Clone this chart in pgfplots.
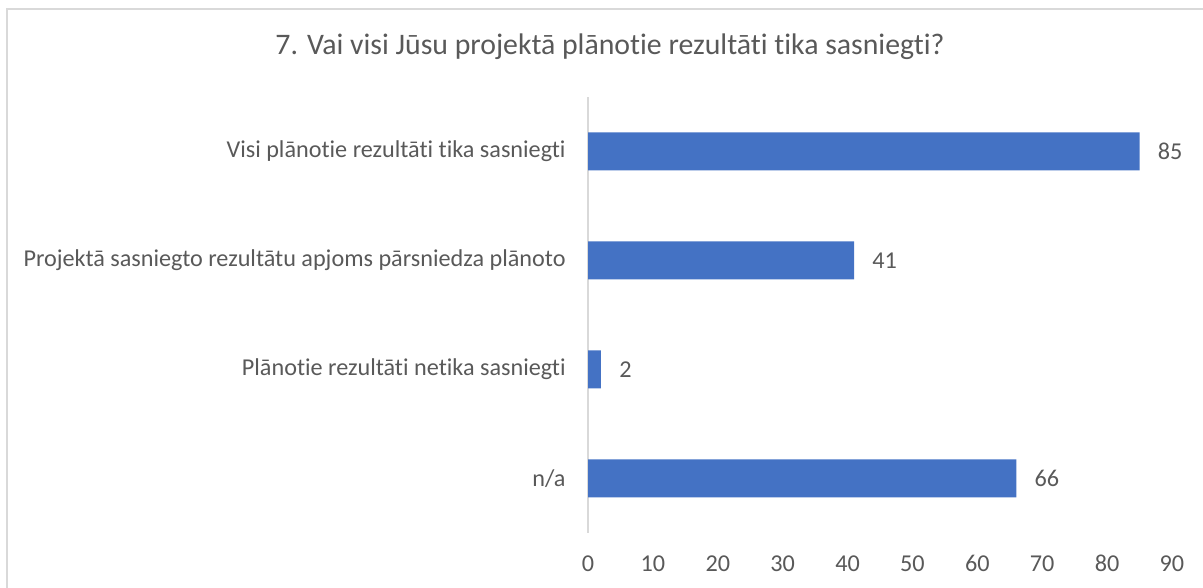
\documentclass[border=0pt]{standalone}
\usepackage{pgfplots}
\pgfplotsset{compat=1.18}
\usepackage{fontspec}
\setmainfont{Carlito}[Ligatures={NoCommon}]
\definecolor{barblue}{HTML}{4472C4}
\definecolor{txt}{HTML}{595959}
\definecolor{axc}{HTML}{D9D9D9}
\begin{document}
\begin{tikzpicture}
\path[use as bounding box] (0,0) rectangle (601.5pt,294pt);
\draw[axc, line width=0.9pt] (3.6pt,0) -- (3.6pt,289.6pt) -- (601.5pt,289.6pt);
\node[txt, font=\fontsize{14.9}{17}\selectfont] at (305pt,270.5pt) {7. Vai visi Jūsu projektā plānotie rezultāti tika sasniegti?};
\begin{axis}[
  at={(294pt,27.5pt)}, anchor=south west,
  scale only axis, width=292pt, height=218pt,
  xbar, bar width=19pt,
  xmin=0, xmax=90, ymin=-0.5, ymax=3.5,
  xtick={0,10,...,90}, ytick={0,1,2,3},
  yticklabels={n/a, Plānotie rezultāti netika sasniegti, Projektā sasniegto rezultātu apjoms pārsniedza plānoto, Visi plānotie rezultāti tika sasniegti},
  axis lines*=left,
  x axis line style={draw=none},
  y axis line style={draw=axc, line width=0.9pt},
  major tick length=0pt,
  /pgf/number format/assume math mode=true,
  ticklabel style={font=\fontsize{12.1}{14}\selectfont, text=txt, inner sep=0pt},
  yticklabel style={xshift=-11pt},
  xticklabel style={yshift=-11pt},
  nodes near coords,
  every node near coord/.append style={font=\fontsize{12.1}{14}\selectfont, text=txt, inner sep=0pt, anchor=west, xshift=9pt},
  clip=false,
]
\addplot[fill=barblue, draw=none] coordinates {(66,0) (2,1) (41,2) (85,3)};
\end{axis}
\end{tikzpicture}
\end{document}
